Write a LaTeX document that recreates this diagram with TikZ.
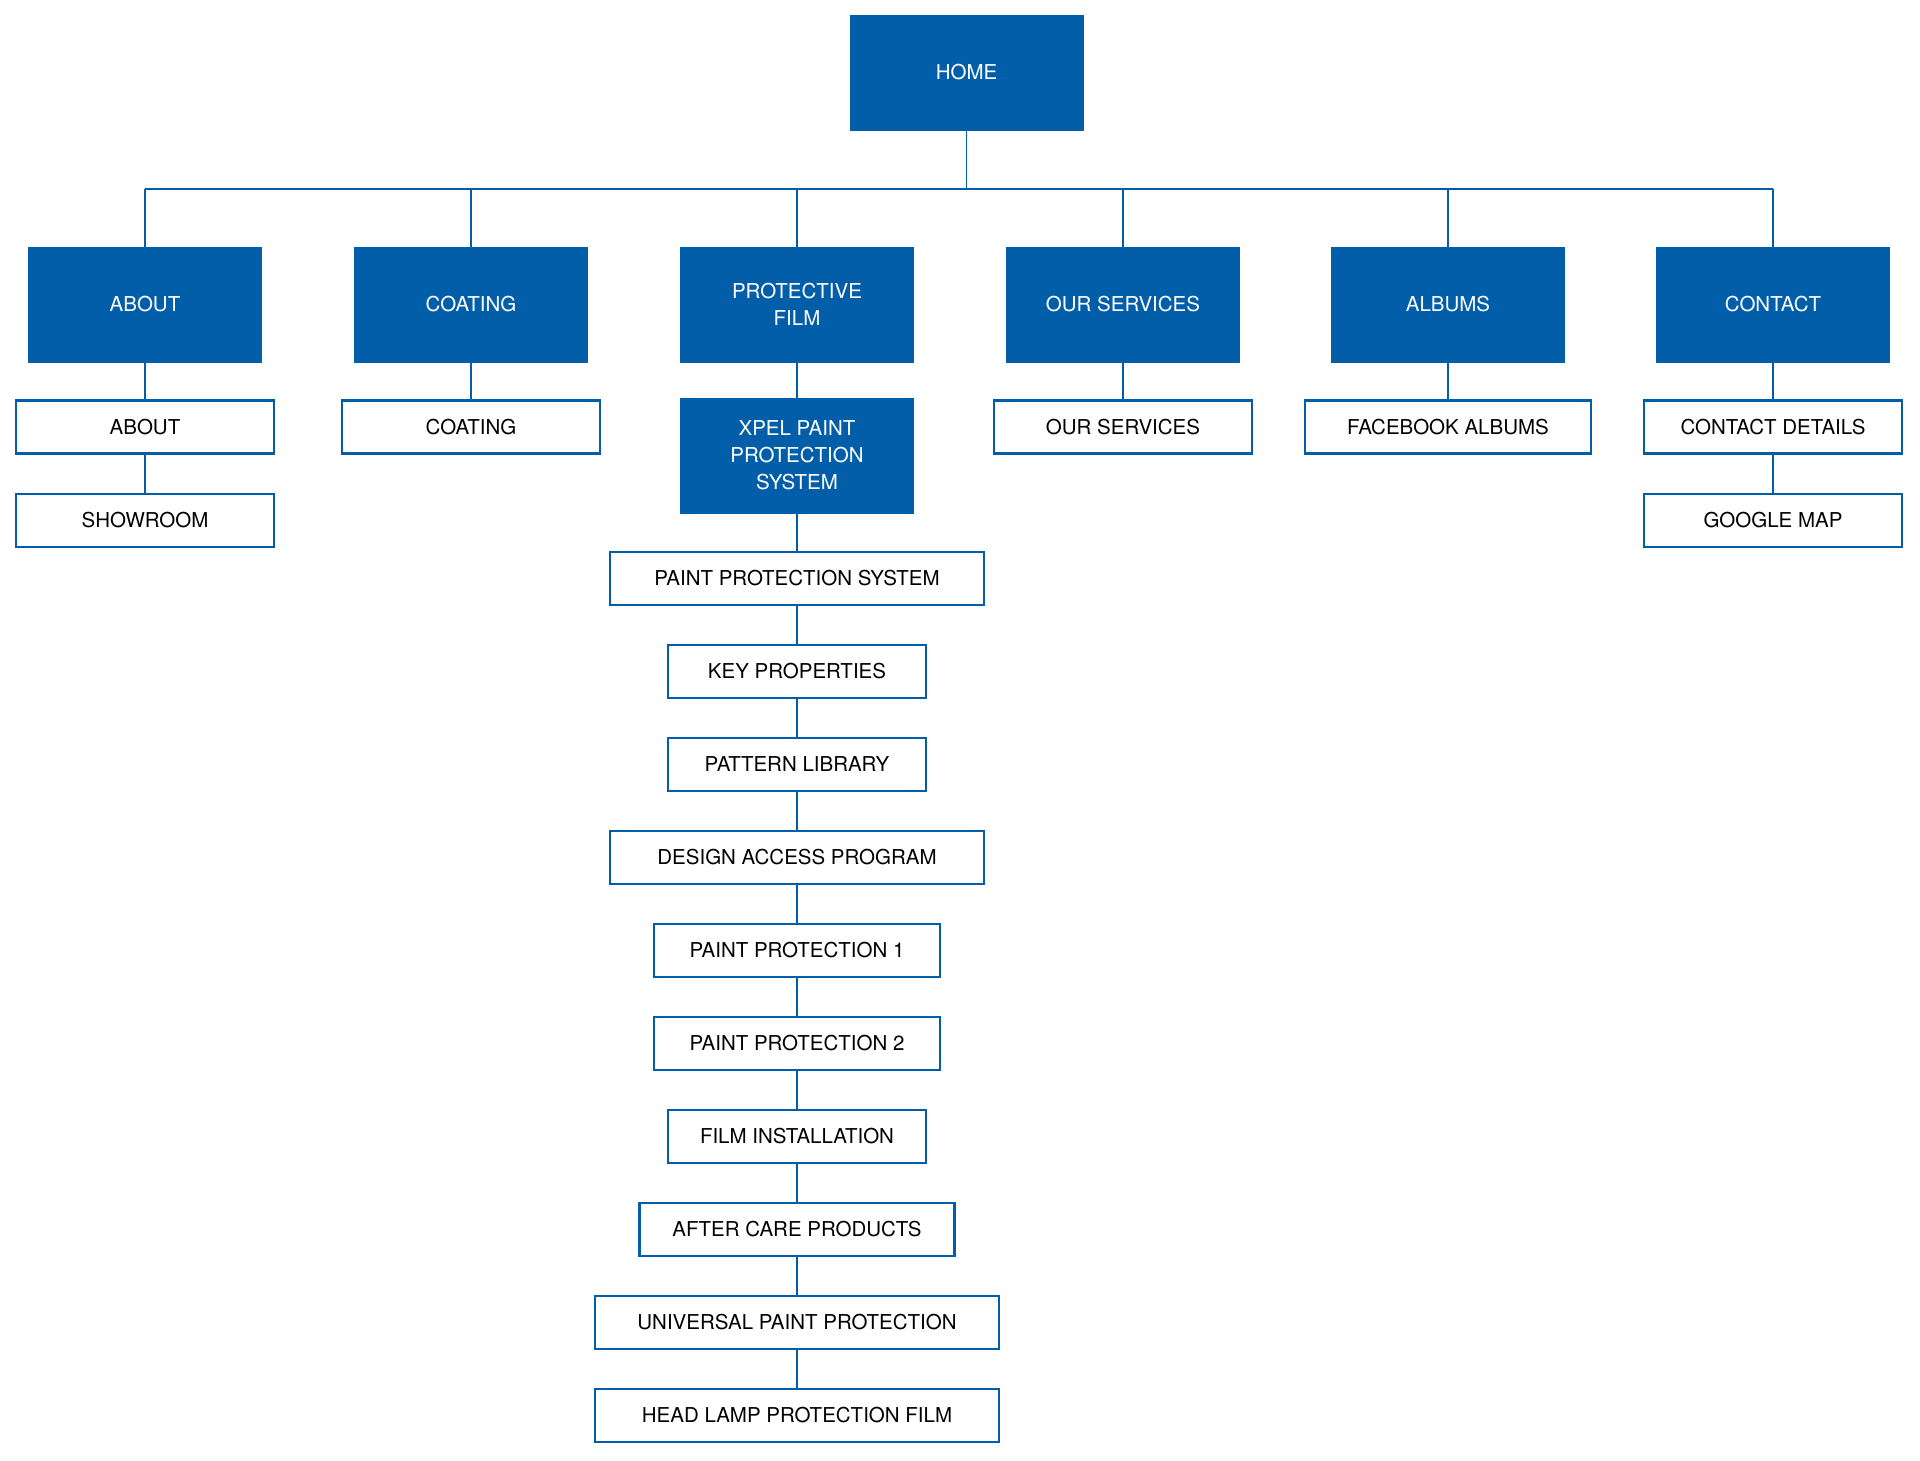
\documentclass[tikz,border=0pt]{standalone}
\usepackage{fontspec}
\setmainfont{TeX Gyre Heros}
\usetikzlibrary{positioning}
\definecolor{sitemapblue}{RGB}{3,94,170}

\begin{document}
\begin{tikzpicture}[x=1pt,y=-1pt]
		% Styles
		\tikzset{
			mainpage/.style={fill=sitemapblue, draw=sitemapblue, text=white, minimum width=233pt, minimum height=115pt, inner sep=0pt, align=center, font=\fontsize{20.5}{27}\selectfont},
			subpage/.style={fill=white, draw=sitemapblue, line width=2.6pt, text=black, minimum width=#1, minimum height=53pt, inner sep=0pt, font=\fontsize{20.5}{27}\selectfont},
			subpage/.default=258pt,
			link/.style={draw=sitemapblue, line width=1.6pt}
		}
		\useasboundingbox (0,0) rectangle (1920,1460);

		% Home
		\node[mainpage] (home) at (966.5,72.5) {HOME};

		% Main sections
		\node[mainpage] (about) at (145,304.5) {ABOUT};
		\node[mainpage] (coating) at (471,304.5) {COATING};
		\node[mainpage] (film) at (797,304.5) {PROTECTIVE\\FILM};
		\node[mainpage] (services) at (1123,304.5) {OUR SERVICES};
		\node[mainpage] (albums) at (1448,304.5) {ALBUMS};
		\node[mainpage] (contact) at (1773,304.5) {CONTACT};

		% Sub pages
		\node[subpage] (aboutpage) at (145,427) {ABOUT};
		\node[subpage] (showroom) at (145,520.5) {SHOWROOM};
		\node[subpage] (coatingpage) at (471,427) {COATING};
		\node[subpage] (servicespage) at (1123,427) {OUR SERVICES};
		\node[subpage=286pt] (facebook) at (1448,427) {FACEBOOK ALBUMS};
		\node[subpage] (details) at (1773,427) {CONTACT DETAILS};
		\node[subpage] (googlemap) at (1773,520.5) {GOOGLE MAP};

		% Protective film column
		\node[mainpage] (xpel) at (797,455.5) {XPEL PAINT\\PROTECTION\\SYSTEM};
		\node[subpage=374pt] (system) at (797,578.5) {PAINT PROTECTION SYSTEM};
		\node[subpage] (keyprops) at (797,671.5) {KEY PROPERTIES};
		\node[subpage] (library) at (797,764.5) {PATTERN LIBRARY};
		\node[subpage=374pt] (design) at (797,857.5) {DESIGN ACCESS PROGRAM};
		\node[subpage=286pt] (protone) at (797,950.5) {PAINT PROTECTION 1};
		\node[subpage=286pt] (prottwo) at (797,1043.5) {PAINT PROTECTION 2};
		\node[subpage] (install) at (797,1136.5) {FILM INSTALLATION};
		\node[subpage=315pt] (aftercare) at (797,1229.5) {AFTER CARE PRODUCTS};
		\node[subpage=404pt] (universal) at (797,1322.5) {UNIVERSAL PAINT PROTECTION};
		\node[subpage=404pt] (headlamp) at (797,1415.5) {HEAD LAMP PROTECTION FILM};

		% Bus from home to main sections
		\coordinate (bus) at (0,189);
		\draw[link] (home) -- (home |- bus);
		\draw[link] (about.north |- bus) -- (contact.north |- bus);
		\draw[link] (about) -- (about |- bus);
		\draw[link] (coating) -- (coating |- bus);
		\draw[link] (film) -- (film |- bus);
		\draw[link] (services) -- (services |- bus);
		\draw[link] (albums) -- (albums |- bus);
		\draw[link] (contact) -- (contact |- bus);

		% Links to sub pages
		\draw[link] (about) -- (aboutpage);
		\draw[link] (aboutpage) -- (showroom);
		\draw[link] (coating) -- (coatingpage);
		\draw[link] (services) -- (servicespage);
		\draw[link] (albums) -- (facebook);
		\draw[link] (contact) -- (details);
		\draw[link] (details) -- (googlemap);

		% Column links
		\draw[link] (film) -- (xpel);
		\draw[link] (xpel) -- (system);
		\draw[link] (system) -- (keyprops);
		\draw[link] (keyprops) -- (library);
		\draw[link] (library) -- (design);
		\draw[link] (design) -- (protone);
		\draw[link] (protone) -- (prottwo);
		\draw[link] (prottwo) -- (install);
		\draw[link] (install) -- (aftercare);
		\draw[link] (aftercare) -- (universal);
		\draw[link] (universal) -- (headlamp);

	\end{tikzpicture}
\end{document}
